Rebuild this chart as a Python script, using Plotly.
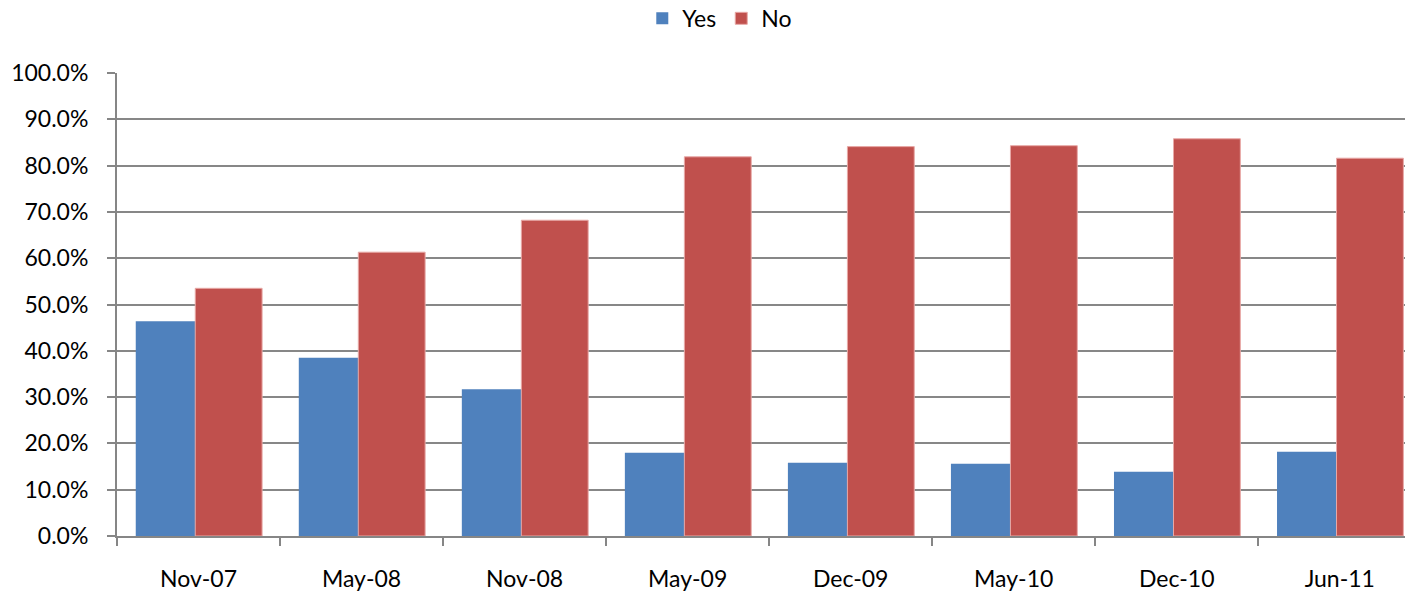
import plotly.graph_objects as go


# --------------------------------------------------
# DATA
# --------------------------------------------------

periods = ["Nov-07", "May-08", "Nov-08", "May-09", "Dec-09", "May-10", "Dec-10", "Jun-11"]

yes_share = [0.464, 0.385, 0.317, 0.180, 0.158, 0.156, 0.139, 0.182]

no_share = [0.535, 0.613, 0.682, 0.819, 0.841, 0.843, 0.858, 0.816]


# --------------------------------------------------
# FIGURE
# --------------------------------------------------

fig = go.Figure()

fig.add_trace(
    go.Bar(
        x=periods,
        y=yes_share,
        name="Yes",
        marker=dict(color="#4F81BD", line=dict(width=0)),
        width=0.37,
        offset=-0.385,
    )
)

fig.add_trace(
    go.Bar(
        x=periods,
        y=no_share,
        name="No",
        marker=dict(color="#C0504D", line=dict(color="#E8A9A7", width=1)),
        width=0.41,
        offset=-0.02,
    )
)

fig.update_layout(
    width=1405,
    height=592,
    barmode="overlay",
    plot_bgcolor="white",
    paper_bgcolor="white",
    font=dict(family="Lato, Open Sans, sans-serif", size=23, color="black"),
    margin=dict(l=117, r=0, t=73, b=56, autoexpand=False),
    showlegend=True,
    legend=dict(
        orientation="h",
        x=0.468,
        xanchor="center",
        y=1.118,
        yanchor="middle",
        font=dict(size=23),
        itemwidth=30,
        traceorder="normal",
    ),
)

fig.update_xaxes(
    type="category",
    range=[-0.5, 7.40],
    showgrid=False,
    showline=True,
    linecolor="#868686",
    linewidth=2,
    ticks="outside",
    tickson="boundaries",
    ticklen=8,
    tickwidth=2,
    tickcolor="#868686",
    ticklabelstandoff=21,
)

fig.update_yaxes(
    range=[0, 1],
    dtick=0.1,
    tickformat=".1%",
    showgrid=True,
    gridcolor="#878787",
    gridwidth=2,
    showline=True,
    linecolor="#868686",
    linewidth=2,
    ticks="outside",
    ticklen=8,
    tickwidth=2,
    tickcolor="#868686",
    ticklabelstandoff=14,
    zeroline=False,
)

# page body has a default 8px margin; drop it so the figure sits at 0,0
fig.write_html(
    "out.html",
    config={"displayModeBar": False},
    post_script="document.body.style.margin='0';document.body.style.overflow='hidden';"
)
